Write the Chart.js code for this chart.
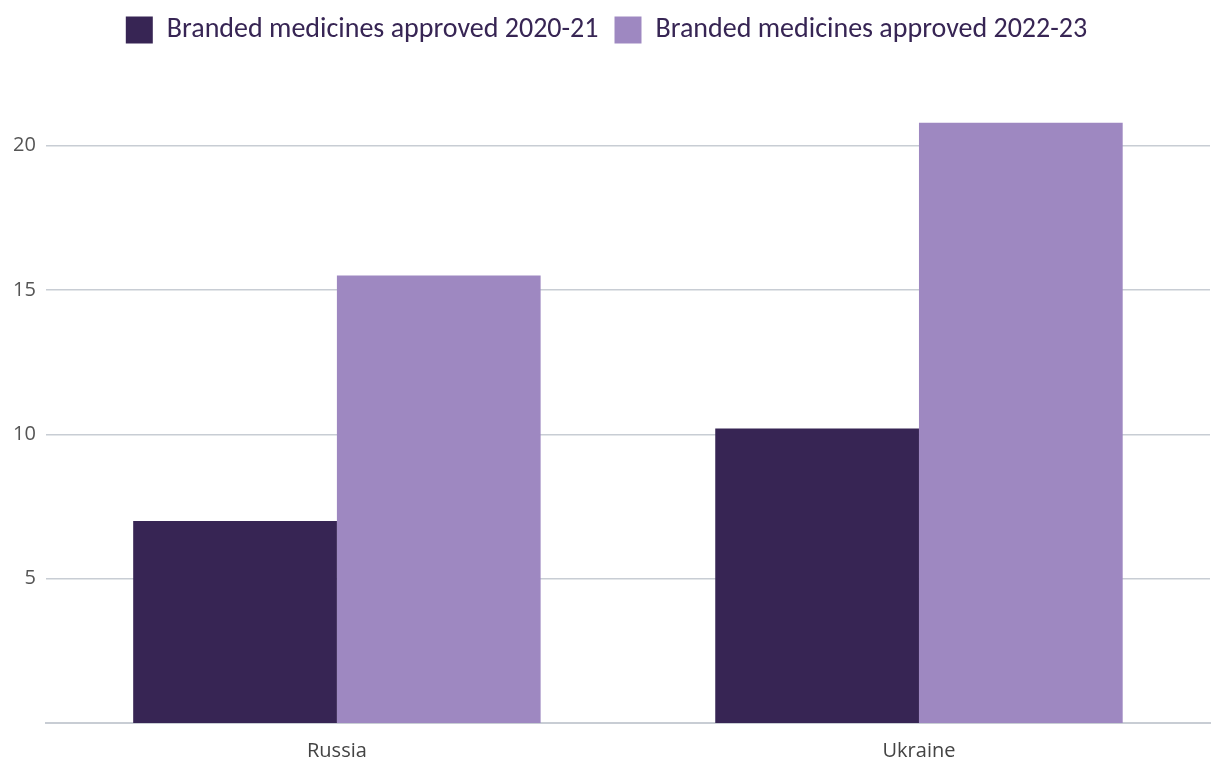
<!DOCTYPE html>
<html>
<head>
<meta charset="utf-8">
<script src="https://cdn.jsdelivr.net/npm/chart.js@4"></script>
<style>
  html, body { margin: 0; padding: 0; background: #fff; }
  #wrap { width: 1220px; height: 778px; }
</style>
</head>
<body>
<div id="wrap"><canvas id="chart"></canvas></div>
<script>
const categories = ["Russia", "Ukraine"];
const approved2021 = [7, 10.2];
const approved2223 = [15.5, 20.8];
const seriesLabels = ["Branded medicines approved 2020-21", "Branded medicines approved 2022-23"];
const yTicks = [5, 10, 15, 20];

// extra room under the legend, like the original
const legendGap = {
    id: "legendGap",
    beforeInit(chart) {
        const fit = chart.legend.fit;
        chart.legend.fit = function () {
            fit.bind(chart.legend)();
            this.height += 34;
        };
    }
};

const ctx = document.getElementById("chart").getContext("2d");
const chart = new Chart(ctx, {
    type: "bar",
    data: {
        labels: categories,
        datasets: [
            { label: seriesLabels[0], data: approved2021, backgroundColor: "#372554" },
            { label: seriesLabels[1], data: approved2223, backgroundColor: "#9e88c1" }
        ]
    },
    plugins: [legendGap],
    options: {
        responsive: true,
        maintainAspectRatio: false,
        animation: false,
        layout: { padding: { left: 3, right: 10, top: 0, bottom: 7 } },
        datasets: { bar: { categoryPercentage: 0.7, barPercentage: 1.0 } },
        plugins: {
            tooltip: { enabled: false },
            legend: {
                position: "top",
                labels: {
                    boxWidth: 27,
                    boxHeight: 27,
                    padding: 16,
                    color: "#372554",
                    font: { family: "Carlito, Lato", size: 28 }
                }
            }
        },
        scales: {
            x: {
                grid: { display: false },
                border: { display: true, color: "#c8cdd4", width: 2 },
                ticks: { color: "#444", padding: 8, font: { family: "Open Sans", size: 20 } }
            },
            y: {
                min: 0,
                max: 22,
                afterBuildTicks: axis => { axis.ticks = yTicks.map(v => ({ value: v })); },
                grid: { color: "#c8cdd4", lineWidth: 1.5, drawTicks: false },
                border: { display: false },
                ticks: { color: "#555", padding: 10, font: { family: "Open Sans", size: 20 } }
            }
        }
    }
});
</script>
</body>
</html>
